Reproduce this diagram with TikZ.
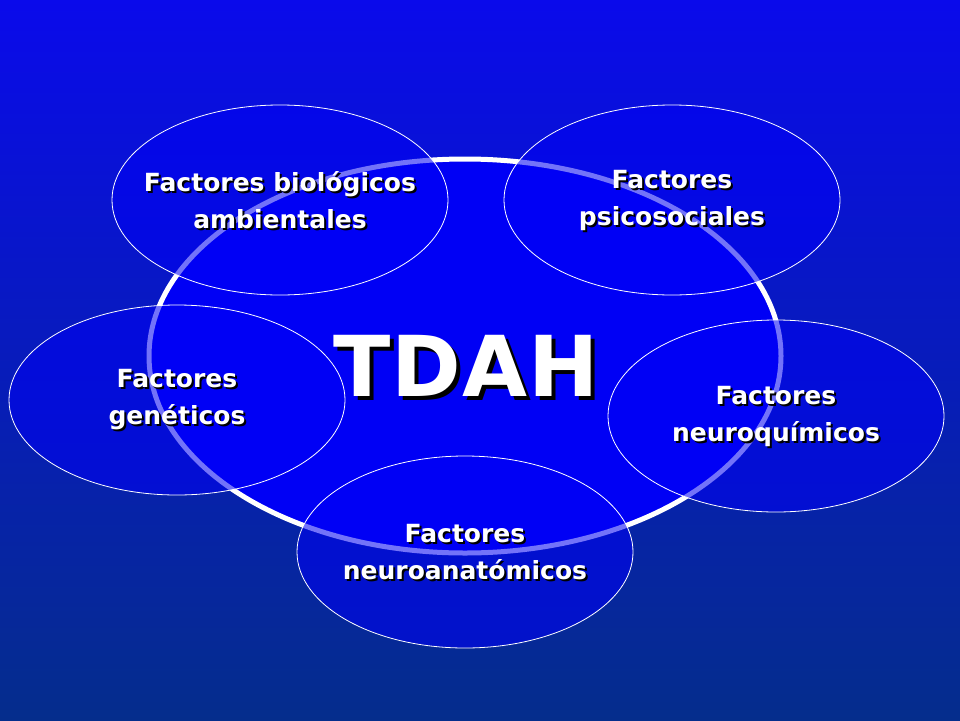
\documentclass[tikz,border=0pt]{standalone}
\usepackage{fontspec}
\setmainfont{DejaVu Sans}
\begin{document}
\begin{tikzpicture}[x=1pt,y=-1pt]
\definecolor{bgtop}{RGB}{10,10,235}
\definecolor{bgbot}{RGB}{5,45,140}
\definecolor{fillb}{RGB}{0,0,245}
\tikzset{
  small/.style={draw=white,line width=0.8pt,fill=fillb,fill opacity=0.55},
  lbl/.style={text=white,font=\bfseries\fontsize{25}{37}\selectfont,align=center},
  shd/.style={lbl,text=black}
}
\shade[top color=bgtop,bottom color=bgbot] (0,0) rectangle (960,720);
\useasboundingbox (0,0) rectangle (960,720);
\draw[white,line width=5pt,fill=fillb] (465,356) ellipse [x radius=316,y radius=197];
\draw[small] (280,200) ellipse [x radius=168,y radius=95];
\draw[small] (672,200) ellipse [x radius=168,y radius=95];
\draw[small] (177,400) ellipse [x radius=168,y radius=95];
\draw[small] (776,416) ellipse [x radius=168,y radius=96];
\draw[small] (465,552) ellipse [x radius=168,y radius=96];
\foreach \x/\y/\t in {280/200/{Factores biológicos\\ambientales},672/200/{Factores\\psicosociales},177/400/{Factores\\genéticos},776/416/{Factores\\neuroquímicos},465/552/{Factores\\neuroanatómicos}}{
  \node[shd] at (\x+2,\y+2) {\t};
  \node[lbl] at (\x,\y) {\t};
}
\node[text=black,font=\bfseries\fontsize{84}{90}\selectfont] at (470,370) {T\kern1ptD\kern1ptA\kern1ptH};
\node[text=white,font=\bfseries\fontsize{84}{90}\selectfont] (tdah) at (466,366) {T\kern1ptD\kern1ptA\kern1ptH};
\end{tikzpicture}
\end{document}
